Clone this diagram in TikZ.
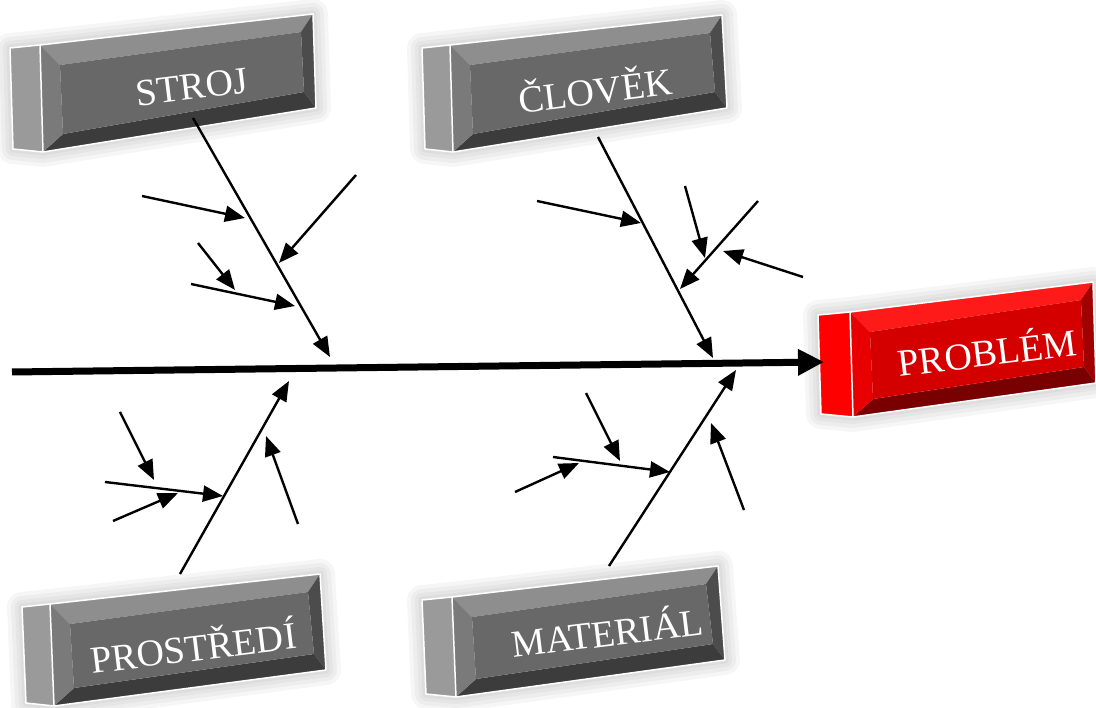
\documentclass[tikz,border=0pt]{standalone}
\usepackage{fontspec}
\setmainfont{Liberation Serif}
\usetikzlibrary{calc, arrows.meta}

\definecolor{grayside}{HTML}{9A9A9A}
\definecolor{graytop}{HTML}{8E8E8E}
\definecolor{grayleft}{HTML}{7A7A7A}
\definecolor{grayface}{HTML}{686868}
\definecolor{graybottom}{HTML}{3C3C3C}
\definecolor{grayright}{HTML}{4C4C4C}
\definecolor{redside}{HTML}{FF0000}
\definecolor{redtop}{HTML}{FF1A1A}
\definecolor{redleft}{HTML}{E80000}
\definecolor{redface}{HTML}{D40000}
\definecolor{redbottom}{HTML}{780000}
\definecolor{redright}{HTML}{A00000}

\tikzset{
  bone/.style = {line width=2.4, -{Triangle[length=20pt, width=16pt]}},
  spine/.style = {line width=7, -{Triangle[length=26pt, width=25pt]}},
  boxlabel/.style = {text=white, font=\fontsize{38}{40}\selectfont, rotate=7, inner sep=0},
}

% #1 colour scheme, #2--#5 front corners (tl, tr, br, bl), #6 side width
\newcommand{\slab}[6]{%
  \coordinate (sA) at #2; \coordinate (sB) at #3;
  \coordinate (sC) at #4; \coordinate (sD) at #5;
  \coordinate (sE) at ($(sA)+(-#6,3)$);
  \coordinate (sF) at ($(sD)+(-#6,-3)$);
  \coordinate (iA) at ($(sA)+(20,20)$);
  \coordinate (iB) at ($(sB)+(-12,18)$);
  \coordinate (iC) at ($(sC)+(-12,-16)$);
  \coordinate (iD) at ($(sD)+(20,-18)$);
  \foreach \w in {30, 22, 14, 7}
    \draw[black, opacity=0.035, line width=\w, line join=round, shift={(-3,-4)}]
      (sE) -- (sA) -- (sB) -- (sC) -- (sD) -- (sF) -- cycle;
  \fill[#1side] (sE) -- (sA) -- (sD) -- (sF) -- cycle;
  \fill[#1top] (sA) -- (sB) -- (iB) -- (iA) -- cycle;
  \fill[#1right] (sB) -- (sC) -- (iC) -- (iB) -- cycle;
  \fill[#1bottom] (sC) -- (sD) -- (iD) -- (iC) -- cycle;
  \fill[#1left] (sD) -- (sA) -- (iA) -- (iD) -- cycle;
  \fill[#1face] (iA) -- (iB) -- (iC) -- (iD) -- cycle;
  \draw[white, line width=1.5, line join=round] (sE) -- (sA) -- (sB) -- (sC) -- (sD) -- (sF) -- cycle;
  \draw[white, line width=1.5] (sA) -- (sD);
}

\begin{document}
\begin{tikzpicture}[x=1pt, y=-1pt]
  \useasboundingbox (0, 0) rectangle (1096, 708);

  % boxes
  \slab{gray}{(40, 45)}{(313, 14)}{(316, 108)}{(43, 152)}{30}
  \node [boxlabel] (stroj) at (192, 87) {STROJ};
  \slab{gray}{(450, 45)}{(722, 15)}{(727, 108)}{(453, 152)}{28}
  \node [boxlabel] (clovek) at (595, 88) {ČLOVĚK};
  \slab{gray}{(50, 604)}{(320, 574)}{(326, 670)}{(54, 706)}{28}
  \node [boxlabel] (prostredi) at (193, 645) {PROSTŘEDÍ};
  \slab{gray}{(452, 597)}{(718, 566)}{(725, 660)}{(456, 697)}{30}
  \node [boxlabel] (material) at (607, 630) {MATERIÁL};
  \slab{red}{(850, 312)}{(1093, 282)}{(1096, 383)}{(853, 417)}{32}
  \node [boxlabel] (problem) at (987, 350) {PROBLÉM};

  % spine
  \coordinate (tail) at (12, 372);
  \coordinate (head) at (824, 362);
  \draw [spine] (tail) -- (head);

  % stroj
  \coordinate (stroj-s) at (193, 118);
  \coordinate (stroj-e) at (330, 357);
  \draw [bone] (stroj-s) -- (stroj-e);
  \coordinate (stroj-1s) at (142, 196);
  \coordinate (stroj-1e) at (245, 218);
  \draw [bone] (stroj-1s) -- (stroj-1e);
  \coordinate (stroj-2s) at (356, 175);
  \coordinate (stroj-2e) at (279, 263);
  \draw [bone] (stroj-2s) -- (stroj-2e);
  \coordinate (stroj-3s) at (198, 243);
  \coordinate (stroj-3e) at (235, 290);
  \draw [bone] (stroj-3s) -- (stroj-3e);
  \coordinate (stroj-4s) at (191, 284);
  \coordinate (stroj-4e) at (295, 306);
  \draw [bone] (stroj-4s) -- (stroj-4e);

  % clovek
  \coordinate (clovek-s) at (598, 137);
  \coordinate (clovek-e) at (713, 358);
  \draw [bone] (clovek-s) -- (clovek-e);
  \coordinate (clovek-1s) at (537, 201);
  \coordinate (clovek-1e) at (641, 223);
  \draw [bone] (clovek-1s) -- (clovek-1e);
  \coordinate (clovek-2s) at (758, 201);
  \coordinate (clovek-2e) at (680, 289);
  \draw [bone] (clovek-2s) -- (clovek-2e);
  \coordinate (clovek-3s) at (685, 186);
  \coordinate (clovek-3e) at (705, 258);
  \draw [bone] (clovek-3s) -- (clovek-3e);
  \coordinate (clovek-4s) at (803, 277);
  \coordinate (clovek-4e) at (723, 251);
  \draw [bone] (clovek-4s) -- (clovek-4e);

  % prostredi
  \coordinate (prostredi-s) at (180, 574);
  \coordinate (prostredi-e) at (289, 381);
  \draw [bone] (prostredi-s) -- (prostredi-e);
  \coordinate (prostredi-1s) at (120, 412);
  \coordinate (prostredi-1e) at (154, 480);
  \draw [bone] (prostredi-1s) -- (prostredi-1e);
  \coordinate (prostredi-2s) at (105, 482);
  \coordinate (prostredi-2e) at (223, 496);
  \draw [bone] (prostredi-2s) -- (prostredi-2e);
  \coordinate (prostredi-3s) at (113, 521);
  \coordinate (prostredi-3e) at (178, 493);
  \draw [bone] (prostredi-3s) -- (prostredi-3e);
  \coordinate (prostredi-4s) at (298, 524);
  \coordinate (prostredi-4e) at (266, 436);
  \draw [bone] (prostredi-4s) -- (prostredi-4e);

  % material
  \coordinate (material-s) at (609, 566);
  \coordinate (material-e) at (736, 370);
  \draw [bone] (material-s) -- (material-e);
  \coordinate (material-1s) at (586, 393);
  \coordinate (material-1e) at (620, 461);
  \draw [bone] (material-1s) -- (material-1e);
  \coordinate (material-2s) at (553, 457);
  \coordinate (material-2e) at (670, 472);
  \draw [bone] (material-2s) -- (material-2e);
  \coordinate (material-3s) at (515, 492);
  \coordinate (material-3e) at (579, 463);
  \draw [bone] (material-3s) -- (material-3e);
  \coordinate (material-4s) at (744, 510);
  \coordinate (material-4e) at (711, 423);
  \draw [bone] (material-4s) -- (material-4e);
\end{tikzpicture}
\end{document}
